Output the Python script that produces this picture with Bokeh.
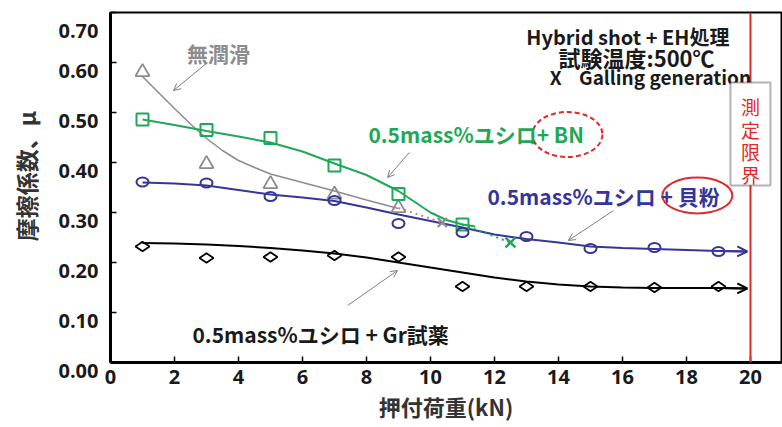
import math
from bokeh.plotting import figure
from bokeh.models import Label, Arrow, OpenHead, Span, BoxAnnotation, FixedTicker, Range1d
from bokeh.embed import file_html
from bokeh.resources import INLINE

# ---------------- data ----------------
dry_x = [1, 3, 5, 7, 9]
dry_mu = [0.581, 0.397, 0.357, 0.336, 0.309]
bn_x = [1, 3, 5, 7, 9, 11]
bn_mu = [0.486, 0.465, 0.449, 0.394, 0.337, 0.276]
loads = [1, 3, 5, 7, 9, 11, 13, 15, 17, 19]
shell_mu = [0.361, 0.359, 0.332, 0.324, 0.278, 0.260, 0.252, 0.228, 0.230, 0.222]
gr_mu = [0.232, 0.209, 0.211, 0.214, 0.211, 0.152, 0.152, 0.152, 0.150, 0.152]
galling_x = [10.37, 12.5]
galling_mu = [0.280, 0.240]

# trend curves
dry_fit_x = [1, 1.5, 2, 2.5, 3, 3.5, 4, 4.5, 5, 6, 7, 8, 9]
dry_fit = [0.572, 0.540, 0.508, 0.477, 0.448, 0.424, 0.404, 0.390, 0.377, 0.360, 0.343, 0.325, 0.308]
bn_fit_x = [1, 2, 3, 4, 5, 6, 7, 8, 9, 10, 10.5, 11, 11.4]
bn_fit = [0.486, 0.475, 0.463, 0.452, 0.440, 0.422, 0.398, 0.375, 0.343, 0.300, 0.285, 0.276, 0.272]
shell_fit_x = [1, 2, 3, 4, 5, 6, 7, 8, 9, 10, 11, 12, 13, 14, 15, 16, 17, 18, 19, 19.9]
shell_fit = [0.360, 0.358, 0.354, 0.345, 0.336, 0.330, 0.323, 0.310, 0.296, 0.283, 0.270,
             0.256, 0.247, 0.240, 0.232, 0.229, 0.227, 0.225, 0.223, 0.222]
gr_fit_x = [1, 2, 3, 4, 5, 6, 7, 8, 9, 10, 11, 12, 13, 14, 15, 16, 17, 18, 19, 19.9]
gr_fit = [0.239, 0.238, 0.236, 0.233, 0.229, 0.224, 0.218, 0.210, 0.200, 0.190, 0.180,
          0.170, 0.162, 0.156, 0.152, 0.150, 0.149, 0.149, 0.149, 0.148]

limit_load = 20
x_ticks = [0, 2, 4, 6, 8, 10, 12, 14, 16, 18, 20]
y_ticks = [0.0, 0.1, 0.2, 0.3, 0.4, 0.5, 0.6, 0.7]
y_tick_labels = ["0.00", "0.10", "0.20", "0.30", "0.40", "0.50", "0.60", "0.70"]

GRAY = "#8c8c8c"
GREEN = "#1fa855"
NAVY = "#35359a"
RED = "#e02a2a"
JP = "Noto Sans CJK JP"

p = figure(width=782, height=427, x_range=Range1d(0, 20.97), y_range=Range1d(0, 0.70),
           output_backend="svg", toolbar_location=None,
           min_border_left=110, min_border_right=1, min_border_top=12, min_border_bottom=65)
p.grid.visible = False
p.outline_line_color = "black"
p.outline_line_width = 2
p.background_fill_color = "white"
p.border_fill_color = "white"

for ax in (p.xaxis[0], p.yaxis[0]):
    ax.axis_line_width = 3
    ax.axis_line_color = "black"
    ax.major_tick_in = 6
    ax.major_tick_out = 0
    ax.major_tick_line_width = 1.5
    ax.minor_tick_line_color = None
    ax.major_label_text_font = "Open Sans"
    ax.major_label_text_font_style = "bold"
    ax.major_label_text_font_size = "20px"
    ax.major_label_text_color = "#1a1a1a"
    ax.axis_label_text_font = JP
    ax.axis_label_text_font_style = "bold"
    ax.axis_label_text_font_size = "22px"
    ax.axis_label_text_color = "#333333"

p.xaxis.ticker = FixedTicker(ticks=x_ticks)
p.xaxis.major_label_standoff = 7
p.xaxis.axis_label = "押付荷重(kN)"
p.xaxis.axis_label_standoff = 3
p.yaxis.ticker = FixedTicker(ticks=y_ticks)
# labels sit a little below their ticks in the original: an empty first line shifts them down
p.yaxis.major_label_overrides = {t: "\n" + l for t, l in zip(y_ticks, y_tick_labels)}
p.yaxis.major_label_text_line_height = 0.6
p.yaxis.major_label_standoff = 12
# the original title sits above the frame centre; a leading ideographic space lifts it
p.yaxis.axis_label = "\u3000摩擦係数、μ"
p.yaxis.axis_label_text_font_size = "23px"
p.yaxis.axis_label_standoff = 12

# measurement limit line
p.add_layout(Span(location=limit_load, dimension="height", line_color=RED, line_width=2))

# trend curves
p.line(dry_fit_x, dry_fit, line_color=GRAY, line_width=1.5)
p.line(bn_fit_x, bn_fit, line_color=GREEN, line_width=2)
p.line(shell_fit_x, shell_fit, line_color=NAVY, line_width=2)
p.line(gr_fit_x, gr_fit, line_color="black", line_width=2)

# arrow heads at the end of continuing curves
p.add_layout(Arrow(end=OpenHead(size=10, line_color=NAVY, line_width=2), line_color=NAVY, line_width=2,
                   x_start=shell_fit_x[-2], y_start=shell_fit[-2], x_end=shell_fit_x[-1], y_end=shell_fit[-1]))
p.add_layout(Arrow(end=OpenHead(size=10, line_color="black", line_width=2), line_color="black", line_width=2,
                   x_start=gr_fit_x[-2], y_start=gr_fit[-2], x_end=gr_fit_x[-1], y_end=gr_fit[-1]))

# dotted lines to galling points
p.line([dry_x[-1], galling_x[0]], [dry_mu[-1], galling_mu[0]], line_color="#b08a9a", line_width=2, line_dash="2 4")
p.line([bn_x[-1], galling_x[1]], [bn_mu[-1], galling_mu[1]], line_color=GREEN, line_width=2, line_dash="2 4")

# markers
p.scatter(dry_x, dry_mu, marker="triangle", size=14, fill_color="white", fill_alpha=0,
          line_color=GRAY, line_width=1.8)
p.scatter(bn_x, bn_mu, marker="square", size=12, fill_color="white", fill_alpha=0,
          line_color=GREEN, line_width=2)
p.ellipse(loads, shell_mu, width=12, height=9, width_units="screen", height_units="screen",
          fill_alpha=0, line_color=NAVY, line_width=2)
p.scatter(loads, gr_mu, marker="diamond", size=14, angle=math.pi / 2, fill_alpha=0,
          line_color="black", line_width=1.8)
p.scatter(galling_x[:1], galling_mu[:1], marker="x", size=13, line_color=GRAY, line_width=2.2)
p.scatter(galling_x[1:], galling_mu[1:], marker="x", size=14, line_color=GREEN, line_width=2.5)

# ellipses around additives
p.ellipse([14.28], [0.456], width=70, height=45, width_units="screen", height_units="screen",
          fill_alpha=0, line_color=RED, line_width=2, line_dash="5 3")
p.ellipse([18.34], [0.334], width=70, height=36, width_units="screen", height_units="screen",
          fill_alpha=0, line_color=RED, line_width=2)

def label(x, y, text, color, size, align="left", style="bold", angle=0, font=JP):
    p.add_layout(Label(x=x, y=y, text=text, text_color=color, text_font=font,
                       text_font_size=f"{size}px", text_font_style=style,
                       text_align=align, text_baseline="middle", angle=angle))

label(3.375, 0.620, "無潤滑", GRAY, 21, align="center")
label(16.17, 0.652, "Hybrid shot + EH処理", "#1a1a1a", 20, align="center")
label(16.44, 0.612, "試験温度:500℃", "#1a1a1a", 22, align="center")
label(16.875, 0.572, "X\u00a0\u00a0\u00a0\u00a0Galling generation", "#1a1a1a", 19, align="center")
label(8.06, 0.458, "0.5mass%ユシロ+ BN", GREEN, 21)
label(11.78, 0.334, "0.5mass%ユシロ + 貝粉", NAVY, 21)
label(2.56, 0.058, "0.5mass%ユシロ + Gr試薬", "#1a1a1a", 21)

# measurement-limit box
p.add_layout(BoxAnnotation(left=19.375, right=20.625, bottom=0.354, top=0.560,
                           fill_color="white", fill_alpha=1, line_color="black", line_width=2))
for i, ch in enumerate("測定限界"):
    label(20.0, 0.512 - i * 0.045, ch, RED, 19, align="center", style="normal")

# pointer arrows
def pointer(x0, y0, x1, y1):
    p.add_layout(Arrow(end=OpenHead(size=7, line_color="#7f7f7f", line_width=1),
                       line_color="#7f7f7f", line_width=1,
                       x_start=x0, y_start=y0, x_end=x1, y_end=y1))

pointer(3.03, 0.600, 1.97, 0.544)
pointer(9.34, 0.420, 8.66, 0.370)
pointer(15.72, 0.304, 14.31, 0.244)
pointer(7.41, 0.114, 8.97, 0.184)

open("out.html", "w").write(file_html(p, INLINE))
